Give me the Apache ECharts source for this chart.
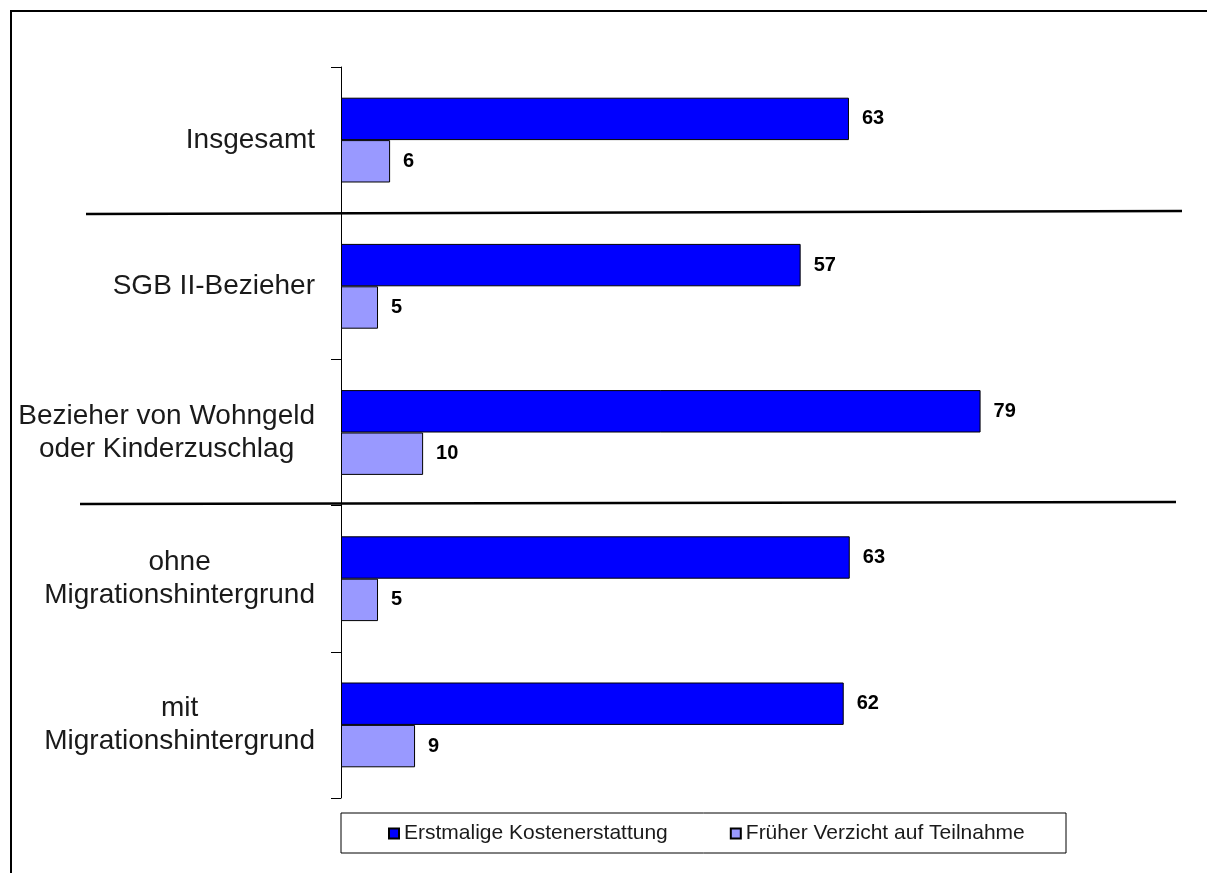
<!DOCTYPE html>
<html>
<head>
<meta charset="utf-8">
<script src="https://cdn.jsdelivr.net/npm/echarts@6/dist/echarts.min.js"></script>
<style>
  html, body { margin: 0; padding: 0; background: #fff; }
  #chart { width: 1207px; height: 873px; }
</style>
</head>
<body>
<div id="chart"></div>
<script>
// Daten (Balkenlängen, Beschriftung gerundet)
const categories = [
  'Insgesamt',
  'SGB II-Bezieher',
  'Bezieher von Wohngeld\noder Kinderzuschlag',
  'ohne\nMigrationshintergrund',
  'mit\nMigrationshintergrund'
]
const seriesNames = ['Erstmalige Kostenerstattung', 'Früher Verzicht auf Teilnahme']
const erstmalig = [63.1, 57.1, 79.45, 63.2, 62.45]
const verzicht = [6.1, 4.6, 10.2, 4.6, 9.2]

const font = 'Arial, "Liberation Sans", sans-serif'

const chart = echarts.init(document.getElementById('chart'))

const valueLabel = {
  show: true,
  position: 'right',
  distance: 13,
  fontFamily: font,
  fontSize: 20,
  fontWeight: 'bold',
  color: '#000',
  formatter: p => Math.round(p.value)
}

const option = {
  animation: false,
  backgroundColor: '#fff',
  grid: {
    left: 341,
    top: 67,
    width: 805,
    height: 731
  },
  xAxis: {
    type: 'value',
    min: 0,
    max: 100,
    show: false,
    splitLine: { show: false }
  },
  yAxis: {
    type: 'category',
    inverse: true,
    data: categories,
    axisLine: { show: true, lineStyle: { color: '#000', width: 1 } },
    axisTick: { show: true, length: 10, lineStyle: { color: '#000', width: 1 } },
    axisLabel: {
      margin: 26,
      fontFamily: font,
      fontSize: 28,
      color: '#1a1a1a',
      // jede Zeile zentriert im Block
      formatter: function (v) {
        return v.split('\n').map(l => '{c|' + l + '}').join('\n')
      },
      rich: {
        c: { align: 'center', fontFamily: font, fontSize: 28, lineHeight: 33, color: '#1a1a1a' }
      }
    }
  },
  legend: {
    data: seriesNames,
    left: 388,
    top: 823,
    padding: 0,
    itemGap: 62,
    itemWidth: 10,
    itemHeight: 10,
    icon: 'rect',
    textStyle: { fontFamily: font, fontSize: 21, color: '#1a1a1a' }
  },
  series: [
    {
      name: seriesNames[0],
      type: 'bar',
      data: erstmalig,
      barGap: '0%',
      barCategoryGap: '42%',
      itemStyle: { color: '#0000ff', borderColor: '#000', borderWidth: 1 },
      label: valueLabel
    },
    {
      name: seriesNames[1],
      type: 'bar',
      data: verzicht,
      itemStyle: { color: '#9999ff', borderColor: '#000', borderWidth: 1 },
      label: valueLabel
    }
  ],
  graphic: [
    // Rahmen
    { type: 'rect', shape: { x: 11, y: 11, width: 1400, height: 1000 },
      style: { fill: null, stroke: '#000', lineWidth: 2 }, silent: true },
    // Trennlinien
    { type: 'line', shape: { x1: 86, y1: 214, x2: 1182, y2: 211 },
      style: { stroke: '#000', lineWidth: 2.5 }, silent: true },
    { type: 'line', shape: { x1: 80, y1: 504, x2: 1176, y2: 502 },
      style: { stroke: '#000', lineWidth: 2.5 }, silent: true },
    // Legendenrahmen
    { type: 'rect', shape: { x: 341, y: 813, width: 725, height: 40 },
      style: { fill: null, stroke: '#000', lineWidth: 1 }, silent: true }
  ]
}

chart.setOption(option)
</script>
</body>
</html>
